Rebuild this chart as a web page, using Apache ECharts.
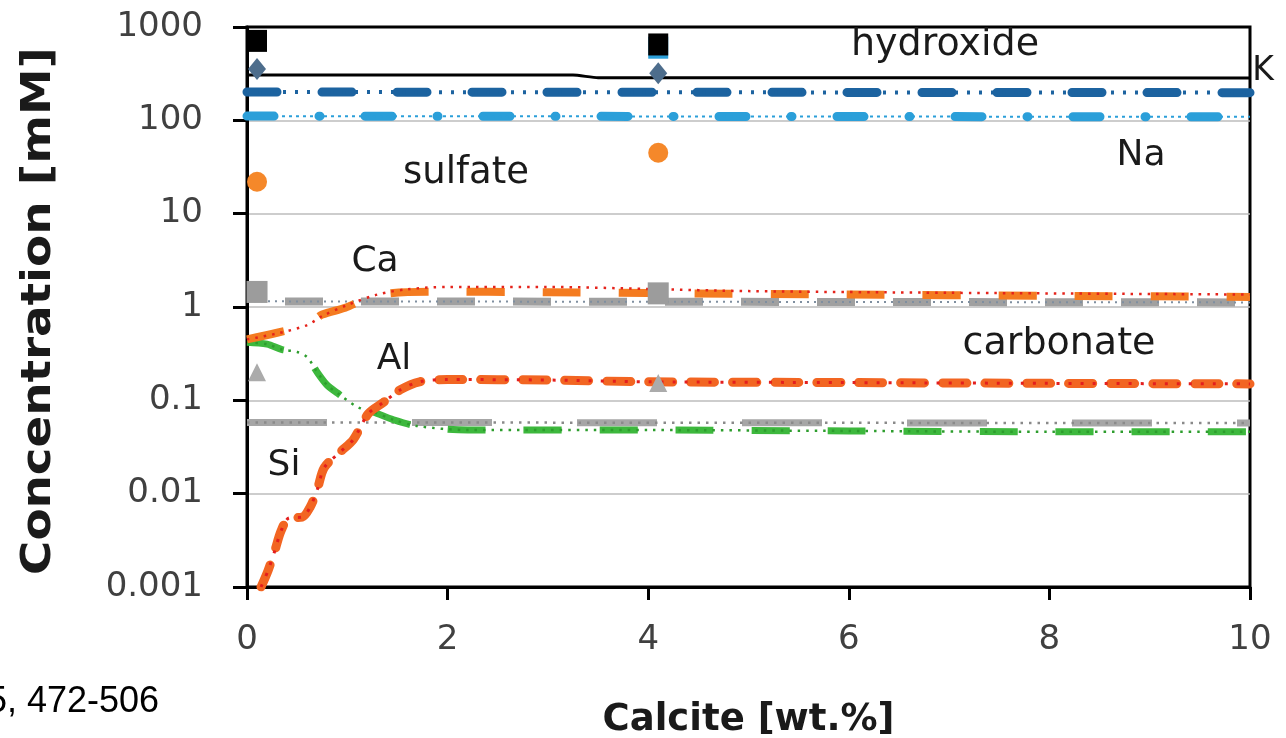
<!DOCTYPE html>
<html>
<head>
<meta charset="utf-8">
<script src="https://cdn.jsdelivr.net/npm/echarts@6/dist/echarts.min.js"></script>
<style>
  html, body { margin: 0; padding: 0; background: #fff; }
  #chart { width: 1286px; height: 738px; }
</style>
</head>
<body>
<div id="chart"></div>
<script>
// model curves [calcite wt.%, concentration mM]
const hydroxideModel = [[0, 306], [3.25, 306], [3.5, 286], [10, 285]]
const kModel = [[0, 201], [10, 198]]
const naModel = [[0, 111], [10, 109]]
const caModel = [[0, 0.45], [0.3, 0.53], [0.5, 0.6], [0.65, 0.7], [0.75, 0.83], [0.98, 0.98],
  [1.15, 1.18], [1.36, 1.38], [1.8, 1.46], [3, 1.44], [4, 1.41], [6, 1.36], [8, 1.32], [10, 1.28]]
const caModelFine = [[0, 0.45], [0.3, 0.52], [0.6, 0.64], [0.75, 0.8], [1.0, 1.05], [1.3, 1.36],
  [1.6, 1.55], [2.0, 1.64], [3, 1.64], [4, 1.56], [5, 1.48], [7, 1.42], [10, 1.36]]
const carbonateModel = [[0, 1.15], [10, 1.12]]
const alModel = [[0.14, 0.001], [0.21, 0.0015], [0.28, 0.0025], [0.34, 0.004], [0.42, 0.0055],
  [0.55, 0.0056], [0.63, 0.0072], [0.7, 0.011], [0.77, 0.019], [0.93, 0.028], [1.06, 0.038],
  [1.21, 0.072], [1.36, 0.095], [1.53, 0.13], [1.72, 0.158], [2.0, 0.167], [3, 0.165],
  [4, 0.158], [6, 0.155], [8, 0.152], [10, 0.15]]
const siModel = [[0, 0.42], [0.2, 0.4], [0.35, 0.35], [0.5, 0.33], [0.6, 0.29], [0.7, 0.2],
  [0.8, 0.145], [0.9, 0.12], [1.1, 0.085], [1.26, 0.075], [1.46, 0.062], [1.7, 0.053],
  [2.2, 0.048], [4, 0.048], [6, 0.047], [8, 0.046], [10, 0.046]]
const siGrayModel = [[0, 0.058], [10, 0.057]]

// measured points
const hydroxideMeas = [[0.1, 710], [4.1, 650]]
const kMeas = [[0.1, 355], [4.1, 320]]
const naMeas = [[4.1, 600]]
const sulfateMeas = [[0.1, 22], [4.1, 45]]
const carbonateMeas = [[0.1, 1.45], [4.1, 1.4]]
const alMeas = [[0.1, 0.2], [4.1, 0.153]]

const FONT = 'DejaVu Sans'

function line(data, color, width, dash, z, extra) {
  return Object.assign({
    type: 'line',
    data: data,
    symbol: 'none',
    smooth: 0.3,
    z: z,
    lineStyle: { color: color, width: width, type: dash }
  }, extra || {})
}

function dots(data, symbol, size, color, z) {
  return {
    type: 'scatter',
    data: data,
    symbol: symbol,
    symbolSize: size,
    z: z,
    itemStyle: { color: color, opacity: 1 }
  }
}

function label(text, x, y, size) {
  return {
    type: 'text', x: x, y: y,
    style: { text: text, font: size + 'px "DejaVu Sans"', fill: '#1a1a1a', align: 'center', verticalAlign: 'middle' }
  }
}

const chart = echarts.init(document.getElementById('chart'))

chart.setOption({
  animation: false,
  backgroundColor: '#fff',
  grid: {
    left: 247, right: 36, top: 27, bottom: 151,
    outerBoundsMode: 'none',
    show: true, borderColor: '#000', borderWidth: 3
  },
  xAxis: {
    type: 'value',
    min: 0, max: 10, interval: 2,
    name: 'Calcite [wt.%]',
    nameLocation: 'middle',
    nameGap: 115,
    nameTextStyle: { fontFamily: FONT, fontWeight: 'bold', fontSize: 37, color: '#1a1a1a' },
    axisLine: { lineStyle: { color: '#000', width: 3 } },
    axisTick: { show: true, length: 13, lineStyle: { color: '#000', width: 3 } },
    axisLabel: { fontFamily: FONT, fontSize: 34, color: '#404040', margin: 36 },
    splitLine: { show: false }
  },
  yAxis: {
    type: 'log',
    logBase: 10,
    min: 0.001, max: 1000,
    axisLine: { show: true, lineStyle: { color: '#000', width: 3 } },
    axisTick: { show: true, length: 14, lineStyle: { color: '#000', width: 3 } },
    axisLabel: {
      fontFamily: FONT, fontSize: 34, color: '#404040', margin: 44,
      formatter: v => String(+Number(v).toPrecision(3))
    },
    splitLine: { showMinLine: false, showMaxLine: false, lineStyle: { color: '#bdbdbd', width: 1.5 } }
  },
  series: [
    line(siGrayModel, '#a6a6a6', 7, [80, 85], 2, { smooth: false }),
    line(siGrayModel, '#8a8a8a', 2.5, [2.5, 6], 2, { smooth: false }),
    line(carbonateModel, '#a0a0a0', 8, [38, 38], 2, { smooth: false, lineStyle: { color: '#a0a0a0', width: 8, type: [38, 38], dashOffset: 38 } }),
    line(carbonateModel, '#7f8fa0', 2, [2, 5], 2, { smooth: false }),
    line(siModel, '#3db83d', 7, [38, 38], 3),
    line(siModel, '#2d9d2d', 2.5, [2.5, 6], 3),
    line(caModel, '#f47b20', 8, [38, 38], 4),
    line(caModelFine, '#e5231b', 2.5, [2.5, 6], 4),
    line(alModel, '#f26522', 9, [24, 18], 5, { lineStyle: { color: '#f26522', width: 9, type: [24, 18], cap: 'round' } }),
    line(alModel, '#e41e1e', 3, [3, 9], 5),
    line(naModel, '#2b9fd9', 9, [27, 45, 1, 45], 4, { smooth: false, lineStyle: { color: '#2b9fd9', width: 9, type: [27, 45, 1, 45], cap: 'round' } }),
    line(naModel, '#2b9fd9', 2, [3, 4], 4, { smooth: false }),
    line(kModel, '#1c63a0', 9, [30, 45], 4, { smooth: false, lineStyle: { color: '#1c63a0', width: 9, type: [30, 45], cap: 'round' } }),
    line(kModel, '#1c63a0', 4, [3, 9], 4, { smooth: false }),
    line(hydroxideModel, '#000', 3, 'solid', 4, { smooth: 0.2 }),
    dots(naMeas, 'rect', [20, 22], '#2b9fd9', 6),
    dots(hydroxideMeas, 'rect', [20, 22], '#000', 7),
    dots(kMeas, 'diamond', [18, 22], '#4d6d8c', 7),
    dots(sulfateMeas, 'circle', 20, '#f5882a', 7),
    dots(carbonateMeas, 'rect', [21, 22], '#9c9c9c', 7),
    dots(alMeas, 'triangle', [18, 18], '#ababab', 7)
  ],
  graphic: [
    label('hydroxide', 945, 45, 38),
    label('K', 1263, 71, 33),
    label('sulfate', 466, 173, 37),
    label('Na', 1141, 156, 36),
    label('Ca', 375, 262, 36),
    label('carbonate', 1059, 344, 38),
    label('Al', 394, 360, 36),
    label('Si', 284, 466, 36),
    {
      type: 'text', x: 40, y: 311, rotation: Math.PI / 2, scaleX: 1.17,
      style: { text: 'Concentration [mM]', font: 'bold 40px "DejaVu Sans"', fill: '#1a1a1a', align: 'center', verticalAlign: 'middle' }
    },
    {
      type: 'text', x: -13, y: 702,
      style: { text: '5, 472-506', font: '36px "Liberation Sans"', fill: '#000', align: 'left', verticalAlign: 'middle' }
    }
  ]
})
</script>
</body>
</html>
